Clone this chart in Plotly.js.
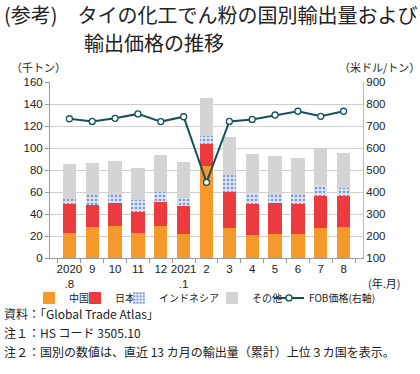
<!DOCTYPE html>
<html><head><meta charset="utf-8">
<script src="https://cdn.plot.ly/plotly-3.0.1.min.js"></script>
<style>html,body{margin:0;padding:0;background:#fff}#c{width:420px;height:374px}</style>
</head><body><div id="c"></div>
<script>
const months = ["2020<br>.8","9","10","11","12","2021<br>.1","2","3","4","5","6","7","8"];
const china = [22.7,27.9,29.4,23.0,29.4,21.5,83.3,27.6,20.6,21.8,21.5,27.6,28.2];
const japan = [26.7,20.3,20.3,18.5,21.8,25.5,20.0,32.4,28.4,27.9,27.9,29.1,28.5];
const indonesia = [4.6,9.1,7.6,11.2,9.1,7.8,7.9,15.5,10.0,7.9,8.2,9.7,7.2];
const others = [31.5,28.7,31.2,29.1,33.7,32.5,34.6,34.2,35.5,35.1,33.6,33.0,31.6];
const fob = [733,721,735,755,720,742,444,721,730,750,767,744,767];

const F = "Noto Sans CJK JP, Noto Sans, sans-serif";
const N = "Liberation Sans, Arial, sans-serif";
const traces = [
  {type:"bar", name:"中国", x:months, y:china, marker:{color:"#F5992A"}, legend:"legend"},
  {type:"bar", name:"日本", x:months, y:japan, marker:{color:"#EC3B3E"}, legend:"legend2"},
  {type:"bar", name:"インドネシア", x:months, y:indonesia, legend:"legend3",
   marker:{color:"#C9D6EE", pattern:{shape:".", fgcolor:"#7E97CF", bgcolor:"#DCE5F5", size:4, solidity:0.35}}},
  {type:"bar", name:"その他", x:months, y:others, marker:{color:"#D4D4D6"}, legend:"legend4"},
  {type:"scatter", mode:"lines+markers", name:"FOB価格(右軸)", x:months, y:fob, yaxis:"y2", legend:"legend5",
   line:{color:"#15505E", width:2}, marker:{symbol:"circle", size:6, color:"#ffffff", line:{color:"#15505E", width:1.3}}}
];
function leg(px){
  return {orientation:"h", x:(px-50)/313, xanchor:"left", y:-0.227, yanchor:"middle",
          bgcolor:"rgba(0,0,0,0)", font:{size:10, family:F}, itemwidth:30};
}
const layout = {
  width:420, height:374,
  margin:{l:50, r:57, t:82, b:116},
  paper_bgcolor:"#fff", plot_bgcolor:"#fff",
  barmode:"stack", bargap:0.42,
  font:{family:F, size:12, color:"#222"},
  showlegend:true,
  legend:leg(69-40), legend2:leg(115-40), legend3:leg(159-40), legend4:leg(252-40), legend5:leg(309-40),
  xaxis:{type:"category", showline:true, linecolor:"#999", ticks:"outside", tickson:"boundaries",
         ticklen:4, tickcolor:"#999", tickangle:0, tickfont:{size:11.5, family:N}, automargin:false},
  yaxis:{range:[0,160], dtick:20, showline:true, linecolor:"#999", gridcolor:"#CFCFCF",
         ticks:"outside", ticklen:4, tickcolor:"#999", tickfont:{size:11.5, family:N}, zeroline:false, automargin:false},
  yaxis2:{range:[100,900], dtick:100, overlaying:"y", side:"right", showline:true, linecolor:"#BBB",
          showgrid:false, zeroline:false, tickfont:{size:11.5, family:N}, automargin:false},
  annotations:[
    {xref:"paper", yref:"paper", text:"(参考)　タイの化工でん粉の国別輸出量および", x:-50/313, y:1,
     xanchor:"left", yanchor:"middle", xshift:2, yshift:68, showarrow:false, font:{size:20, family:F, color:"#222"}},
    {xref:"paper", yref:"paper", text:"輸出価格の推移", x:-50/313, y:1,
     xanchor:"left", yanchor:"middle", xshift:82, yshift:40, showarrow:false, font:{size:20, family:F, color:"#222"}},
    {xref:"paper", yref:"paper", text:"（千トン）", x:0, y:1, xanchor:"center", yanchor:"middle",
     xshift:-12, yshift:15, showarrow:false, font:{size:11, family:F}},
    {xref:"paper", yref:"paper", text:"（米ドル/トン）", x:1, y:1, xanchor:"center", yanchor:"middle",
     xshift:16, yshift:15, showarrow:false, font:{size:11, family:F}},
    {xref:"paper", yref:"paper", text:"(年.月)", x:1, y:0, xanchor:"center", yanchor:"middle",
     xshift:21, yshift:-25, showarrow:false, font:{size:11, family:F}},
    {xref:"paper", yref:"paper", text:"資料：｢Global Trade Atlas｣", x:-50/313, y:0, xanchor:"left", yanchor:"middle",
     xshift:2, yshift:-55, showarrow:false, font:{size:12, family:F}},
    {xref:"paper", yref:"paper", text:"注１：HS コード 3505.10", x:-50/313, y:0, xanchor:"left", yanchor:"middle",
     xshift:2, yshift:-74, showarrow:false, font:{size:12, family:F}},
    {xref:"paper", yref:"paper", text:"注２：国別の数値は、直近 13 カ月の輸出量（累計）上位３カ国を表示。", x:-50/313, y:0, xanchor:"left", yanchor:"middle",
     xshift:2, yshift:-93, showarrow:false, font:{size:12, family:F}}
  ]
};
Plotly.newPlot("c", traces, layout, {staticPlot:true, displayModeBar:false});
</script></body></html>
